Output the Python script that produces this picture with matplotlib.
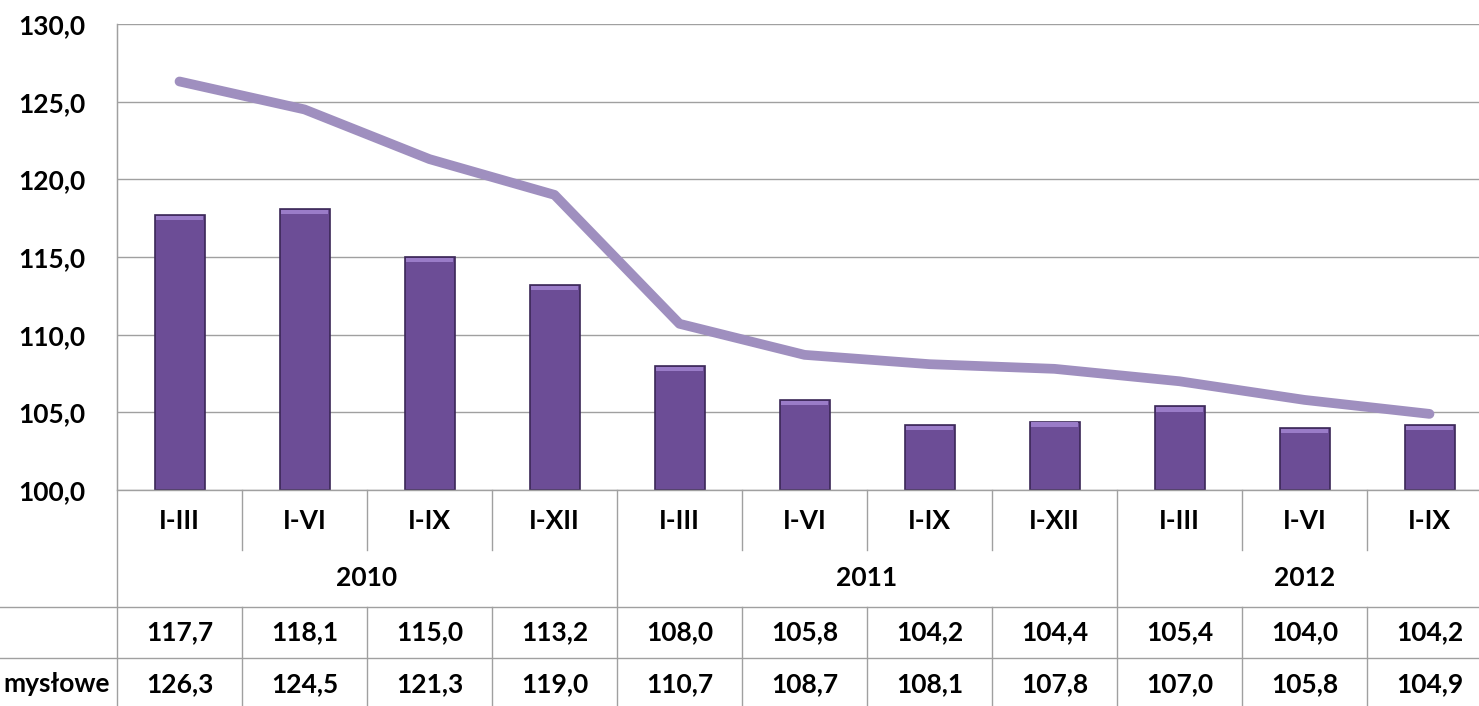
import matplotlib
matplotlib.use("Agg")
import matplotlib.pyplot as plt
from matplotlib.transforms import blended_transform_factory

periods = ["I-III", "I-VI", "I-IX", "I-XII", "I-III", "I-VI", "I-IX", "I-XII", "I-III", "I-VI", "I-IX"]
years = ["2010", "2011", "2012"]
year_spans = [(0, 3), (4, 7), (8, 10)]
bar_values = [117.7, 118.1, 115.0, 113.2, 108.0, 105.8, 104.2, 104.4, 105.4, 104.0, 104.2]
line_values = [126.3, 124.5, 121.3, 119.0, 110.7, 108.7, 108.1, 107.8, 107.0, 105.8, 104.9]
row_labels = ["", "mysłowe"]
yticks = [100, 105, 110, 115, 120, 125, 130]

plt.rcParams['font.family'] = ['Lato', 'DejaVu Sans']
FS = 19
W, H = 1479, 706
fig = plt.figure(figsize=(W / 100, H / 100), dpi=100)
left_px, right_px, top_px, bot_px = 117, 1492, 24, 490
ax = fig.add_axes([left_px / W, 1 - bot_px / H, (right_px - left_px) / W, (bot_px - top_px) / H])

n = len(periods)
x = list(range(n))
ax.set_xlim(-0.5, n - 0.5)
ax.set_ylim(100, 130)
ax.set_yticks(yticks)
ax.set_yticklabels([f"{v:.1f}".replace(".", ",") for v in yticks], fontsize=FS, fontweight='bold')
ax.set_xticks([])
ax.tick_params(axis='y', length=0, pad=23)
ax.yaxis.grid(True, color='#A0A0A0', lw=1)
ax.set_axisbelow(True)
for s in ['top', 'right', 'bottom']:
    ax.spines[s].set_visible(False)
ax.spines['left'].set_color('#A0A0A0')

ax.bar(x, [v - 100 for v in bar_values], bottom=100, width=0.4, color='#6C4D96',
       edgecolor='#3B2757', linewidth=1.2, zorder=2)
ax.bar(x, [0.3] * n, bottom=[v - 0.35 for v in bar_values], width=0.37, color='#9A7CC8',
       linewidth=0, zorder=3)
ax.plot(x, line_values, color='#9F8FBF', lw=7, solid_capstyle='round', zorder=4)

tr = blended_transform_factory(ax.transData, fig.transFigure)
def fy(p):
    return 1 - p / H
gc = '#A0A0A0'
def vline(xd, y0, y1):
    ax.plot([xd, xd], [fy(y0), fy(y1)], transform=tr, color=gc, lw=1, clip_on=False)

ax.plot([-0.5, n - 0.5], [fy(490), fy(490)], transform=tr, color=gc, lw=1, clip_on=False)
vline(-0.5, 24, 706)
year_bounds = [s[1] + 0.5 for s in year_spans[:-1]]
for k in range(n - 1):
    b = k + 0.5
    if b in year_bounds:
        vline(b, 490, 706)
    else:
        vline(b, 490, 550)
        vline(b, 607, 706)
for yp in [607, 658]:
    fig.add_artist(plt.Line2D([0, 1], [fy(yp), fy(yp)], transform=fig.transFigure, color=gc, lw=1))

for i, p in enumerate(periods):
    ax.text(i, fy(521), p, transform=tr, ha='center', va='center', fontsize=FS, fontweight='bold')
for yr, (a, b) in zip(years, year_spans):
    ax.text((a + b) / 2, fy(578), yr, transform=tr, ha='center', va='center', fontsize=FS, fontweight='bold')
for i in range(n):
    ax.text(i, fy(632), f"{bar_values[i]:.1f}".replace(".", ","), transform=tr, ha='center', va='center',
            fontsize=FS, fontweight='bold')
    ax.text(i, fy(684), f"{line_values[i]:.1f}".replace(".", ","), transform=tr, ha='center', va='center',
            fontsize=FS, fontweight='bold')
for lab, yp in zip(row_labels, [632, 684]):
    ax.text(-0.555, fy(yp), lab, transform=tr, ha='right', va='center', fontsize=FS, fontweight='bold')

fig.savefig("out.png", dpi=100)
